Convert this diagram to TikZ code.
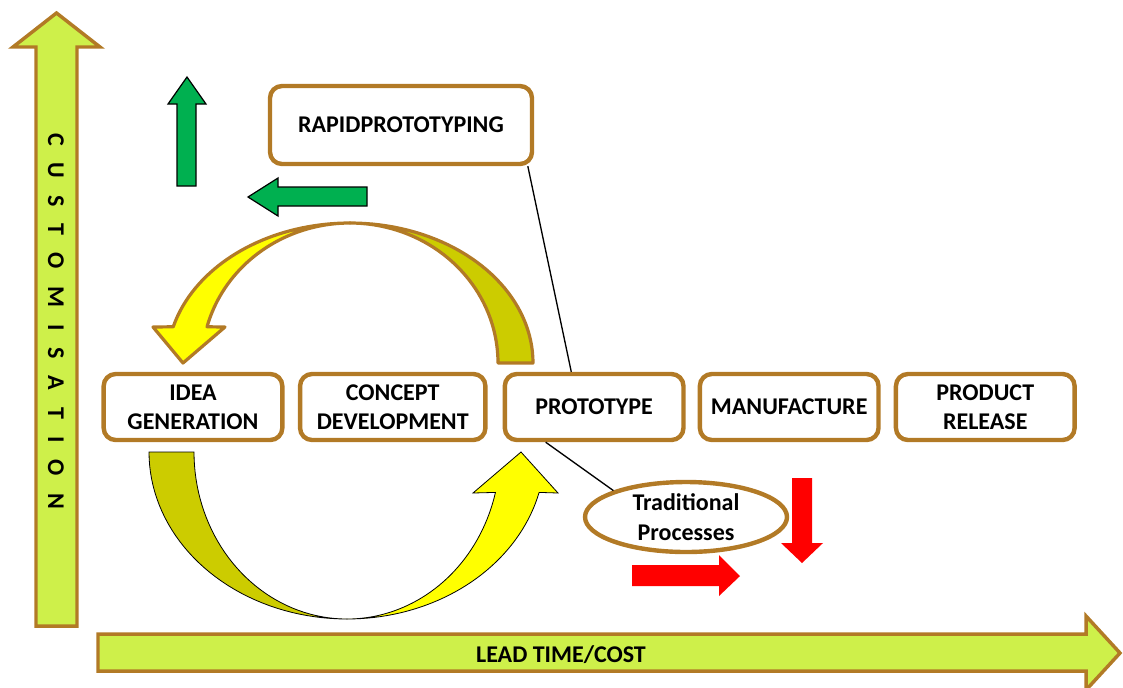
\documentclass[tikz,border=0pt]{standalone}
\usepackage{fontspec}
\setmainfont{Carlito}
\usetikzlibrary{positioning, shapes.geometric}
\definecolor{rimbrown}{RGB}{178,122,38}
\definecolor{axislime}{RGB}{206,240,74}
\definecolor{arrowgreen}{RGB}{0,176,80}
\definecolor{curveyellow}{RGB}{255,255,0}
\definecolor{curveolive}{RGB}{204,204,0}

\begin{document}
\begin{tikzpicture}[x=0.75pt, y=-0.75pt, font=\bfseries\fontsize{18}{22}\selectfont,
    stagebox/.style={draw=rimbrown, line width=3.3pt, rounded corners=9pt, fill=white,
      minimum width=134pt, minimum height=49.5pt, align=center, inner sep=2pt},
    axisarrow/.style={fill=axislime, draw=rimbrown, line width=2.6pt},
    greenarrow/.style={fill=arrowgreen, draw=black, line width=0.9pt},
    redarrow/.style={fill=red},
    link/.style={draw=black, line width=1pt}]

    % 1. page frame (pixel units, y downwards)
    \useasboundingbox (0,0) rectangle (1123,687);

    % 2. axes
    \draw[axisarrow] (36,626) -- (36,47) -- (13,47) -- (56.5,13) -- (100,47) -- (77,47) -- (77,626) -- cycle;
    \draw[axisarrow] (98,634) -- (1086,634) -- (1086,616) -- (1120,653) -- (1086,690) -- (1086,671) -- (98,671) -- cycle;
    \node[rotate=-90, font={\bfseries\fontsize{18}{22}\selectfont\spaceskip=0.71em\relax}] (custom) at (56,321) {C U S T O M I S A T I O N};
    \node (lead) at (561,655) {LEAD TIME/COST};

    % 3. upper curved arrow (back face, then front face)
    \filldraw[fill=curveolive, draw=rimbrown, line width=2.4pt, line join=round]
        plot[domain=0:90, samples=40] ({350+183*cos(\x)},{363-140*sin(\x)})
        -- plot[domain=90:0, samples=40] ({350+148*cos(\x)},{363-140*sin(\x)}) -- cycle;
    \filldraw[fill=curveyellow, draw=rimbrown, line width=2.4pt, line join=round]
        plot[domain=90:165, samples=40] ({350+183*cos(\x)},{363-140*sin(\x)})
        -- (153,327) -- (183,363) -- (225,327)
        -- plot[domain=165:90, samples=40] ({350+148*cos(\x)},{363-140*sin(\x)}) -- cycle;

    % 4. lower curved arrow
    \filldraw[fill=curveolive, draw=black, line width=0.6pt]
        plot[domain=180:270, samples=40] ({347+198*cos(\x)},{452-167*sin(\x)})
        -- plot[domain=270:180, samples=40] ({347+153*cos(\x)},{452-167*sin(\x)}) -- cycle;
    \filldraw[fill=curveyellow, draw=black, line width=0.6pt]
        plot[domain=270:346, samples=40] ({347+198*cos(\x)},{452-167*sin(\x)})
        -- (558,493) -- (521,452) -- (473,493)
        -- plot[domain=346:270, samples=40] ({347+153*cos(\x)},{452-167*sin(\x)}) -- cycle;

    % 5. green and red block arrows
    \draw[greenarrow] (177,186) -- (177,104) -- (168,104) -- (187,77) -- (206,104) -- (196,104) -- (196,186) -- cycle;
    \draw[greenarrow] (367,187) -- (278,187) -- (278,178) -- (248,197) -- (278,216) -- (278,206) -- (367,206) -- cycle;
    \fill[redarrow] (792,478) -- (792,543) -- (781,543) -- (802,563) -- (823,543) -- (812,543) -- (812,478) -- cycle;
    \fill[redarrow] (632,565) -- (719,565) -- (719,555) -- (740,576) -- (719,596) -- (719,586) -- (632,586) -- cycle;

    % 6. stages
    \node[stagebox] (idea) at (193,407) {IDEA\\GENERATION};
    \node[stagebox, minimum width=139pt, right=10pt of idea] (concept) {CONCEPT\\DEVELOPMENT};
    \node[stagebox, right=11.25pt of concept] (proto) {PROTOTYPE};
    \node[stagebox, right=9pt of proto] (manuf) {MANUFACTURE};
    \node[stagebox, right=9.75pt of manuf] (release) {PRODUCT\\RELEASE};
    \node[stagebox, minimum width=196.5pt, minimum height=58.5pt] (rapid) at (401,125) {RAPIDPROTOTYPING};
    \node[ellipse, draw=rimbrown, line width=3.3pt, fill=white, minimum width=151.5pt,
        minimum height=52.5pt, inner sep=0pt, align=center] (trad) at (686,517) {Traditional\\Processes};

    % 7. links
    \draw[link] (rapid.-18) -- (proto.123);
    \draw[link] (proto.-144) -- (trad.160);

\end{tikzpicture}
\end{document}
